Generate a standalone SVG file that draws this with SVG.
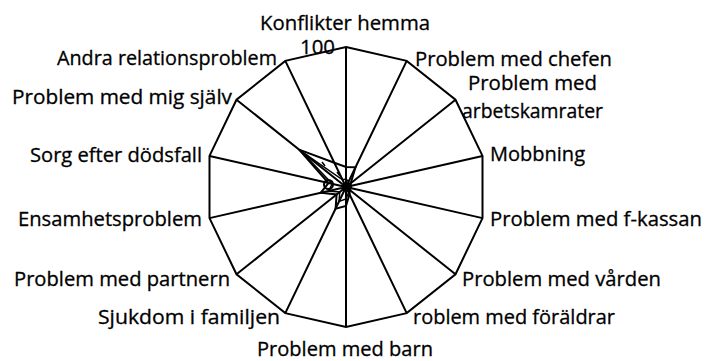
<svg xmlns="http://www.w3.org/2000/svg" width="706" height="361" viewBox="0 0 706 361">
<style>
.lbl{font-family:"Open Sans","DejaVu Sans",sans-serif;font-size:20px;fill:#000;stroke:#000;stroke-width:0.3}
.ax{stroke:#000;stroke-width:2;fill:none}
.ser{stroke:#000;stroke-width:2;fill:none;stroke-linejoin:miter}
.ser2{stroke:#000;stroke-width:1.5;fill:none}
</style>
<rect width="706" height="361" fill="#fff"/>
<g id="grid">
<polygon class="ax" points="346,47 406.7,60.9 455.5,99.7 482.5,155.9 482.5,218.1 455.5,274.3 406.7,313.1 346,327 285.3,313.1 236.5,274.3 209.5,218.1 209.5,155.9 236.5,99.7 285.3,60.9"/>
</g>
<g id="connectors">
<path class="ax" d="M346,187L346,47M346,187L406.7,60.9M346,187L455.5,99.7M346,187L482.5,155.9M346,187L482.5,218.1M346,187L455.5,274.3M346,187L406.7,313.1M346,187L346,327M346,187L285.3,313.1M346,187L236.5,274.3M346,187L209.5,218.1M346,187L209.5,155.9M346,187L236.5,99.7M346,187L285.3,60.9"/>
</g>
<g id="series1">
<polygon class="ser" points="346,167 355.5,167.2 350.7,183.3 350.9,185.9 350.9,188.1 349.9,190.1 349.5,194.2 346,206 335.6,208.6 336.6,194.5 320.7,192.8 328.5,183 299.1,149.6 334.3,162.8"/>
</g>
<g id="series2">
<polygon class="ser2" points="346,179 348.6,181.6 349.1,184.5 349.9,186.1 349.9,187.9 349.1,189.5 348.6,192.4 346,199 339.1,201.4 339.7,192 328.5,191 332.3,183.9 300.7,150.8 342.5,179.8"/>
<path class="ser2" d="M307,155l3,4M322,162l3,4M337,172l3,4"/>
<circle cx="328.5" cy="184.5" r="4.5" fill="none" stroke="#000" stroke-width="2"/>
</g>
<g id="labels">
<text class="lbl" x="260" y="30" textLength="170" lengthAdjust="spacingAndGlyphs">Konflikter hemma</text>
<text class="lbl" x="300" y="54" textLength="35" lengthAdjust="spacingAndGlyphs">100</text>
<text class="lbl" x="415" y="66" textLength="197" lengthAdjust="spacingAndGlyphs">Problem med chefen</text>
<text class="lbl" x="468" y="90" textLength="129" lengthAdjust="spacingAndGlyphs">Problem med</text>
<text class="lbl" x="462" y="118" textLength="141" lengthAdjust="spacingAndGlyphs">arbetskamrater</text>
<text class="lbl" x="490" y="161" textLength="95" lengthAdjust="spacingAndGlyphs">Mobbning</text>
<text class="lbl" x="490" y="226" textLength="212" lengthAdjust="spacingAndGlyphs">Problem med f-kassan</text>
<text class="lbl" x="462" y="286" textLength="199" lengthAdjust="spacingAndGlyphs">Problem med vården</text>
<text class="lbl" x="413" y="324" textLength="202" lengthAdjust="spacingAndGlyphs">roblem med föräldrar</text>
<text class="lbl" x="257" y="356" textLength="176" lengthAdjust="spacingAndGlyphs">Problem med barn</text>
<text class="lbl" x="98" y="324" textLength="182" lengthAdjust="spacingAndGlyphs">Sjukdom i familjen</text>
<text class="lbl" x="14" y="286" textLength="216" lengthAdjust="spacingAndGlyphs">Problem med partnern</text>
<text class="lbl" x="18" y="226" textLength="184" lengthAdjust="spacingAndGlyphs">Ensamhetsproblem</text>
<text class="lbl" x="30" y="162" textLength="172" lengthAdjust="spacingAndGlyphs">Sorg efter dödsfall</text>
<text class="lbl" x="12" y="104" textLength="220" lengthAdjust="spacingAndGlyphs">Problem med mig själv</text>
<text class="lbl" x="57" y="65" textLength="220" lengthAdjust="spacingAndGlyphs">Andra relationsproblem</text>
</g>
</svg>
